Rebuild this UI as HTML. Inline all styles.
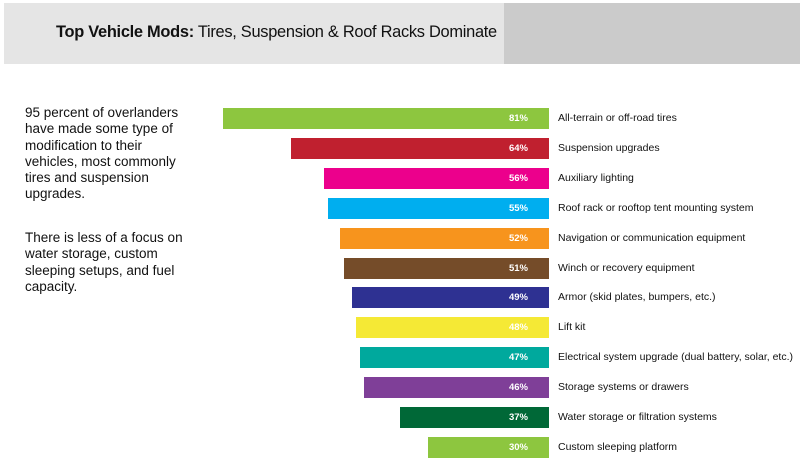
<!DOCTYPE html>
<html><head><meta charset="utf-8"><style>
body{margin:0;width:800px;height:459px;background:#fff;position:relative;overflow:hidden;font-family:"Liberation Sans",sans-serif}
.hd{position:absolute;left:4px;top:3px;width:500px;height:61px;background:#e5e5e5}
.hd2{position:absolute;left:504px;top:3px;width:296px;height:61px;background:#cbcbcb}
.t{position:absolute;left:56px;top:22px;font-size:17px;color:#111;letter-spacing:-0.3px;transform:scaleX(0.965);transform-origin:left;white-space:nowrap}
.p{position:absolute;left:25px;font-size:13.5px;line-height:16.3px;color:#111;white-space:nowrap}
.bar{position:absolute;height:21px}
.bar span{position:absolute;right:21px;top:5px;font-size:9.5px;color:#fff;font-weight:bold}
.lb{position:absolute;left:558px;font-size:10.5px;color:#111}
</style></head><body>
<div class="hd"></div><div class="hd2"></div>
<div class="t"><b>Top Vehicle Mods:</b> Tires, Suspension &amp; Roof Racks Dominate</div>
<div class="p" style="top:105px">95 percent of overlanders<br>have made some type of<br>modification to their<br>vehicles, most commonly<br>tires and suspension<br>upgrades.</div>
<div class="p" style="top:230px">There is less of a focus on<br>water storage, custom<br>sleeping setups, and fuel<br>capacity.</div>
<div id="c"></div>
<script>
var d=[[81,"#8dc63f","All-terrain or off-road tires"],[64,"#c0202f","Suspension upgrades"],[56,"#ec008c","Auxiliary lighting"],[55,"#00aeef","Roof rack or rooftop tent mounting system"],[52,"#f7941d","Navigation or communication equipment"],[51,"#754c29","Winch or recovery equipment"],[49,"#2e3192","Armor (skid plates, bumpers, etc.)"],[48,"#f5e935","Lift kit"],[47,"#00a99d","Electrical system upgrade (dual battery, solar, etc.)"],[46,"#7f3f98","Storage systems or drawers"],[37,"#006837","Water storage or filtration systems"],[30,"#8dc63f","Custom sleeping platform"]];
var h="";d.forEach(function(r,i){var y=108+i*29.9,w=r[0]*4.025;
h+='<div class="bar" style="left:'+(549-w)+'px;width:'+w+'px;top:'+y+'px;background:'+r[1]+'"><span>'+r[0]+'%</span></div><div class="lb" style="top:'+(y+4)+'px">'+r[2]+'</div>';});
document.getElementById("c").innerHTML=h;
</script>
</body></html>
